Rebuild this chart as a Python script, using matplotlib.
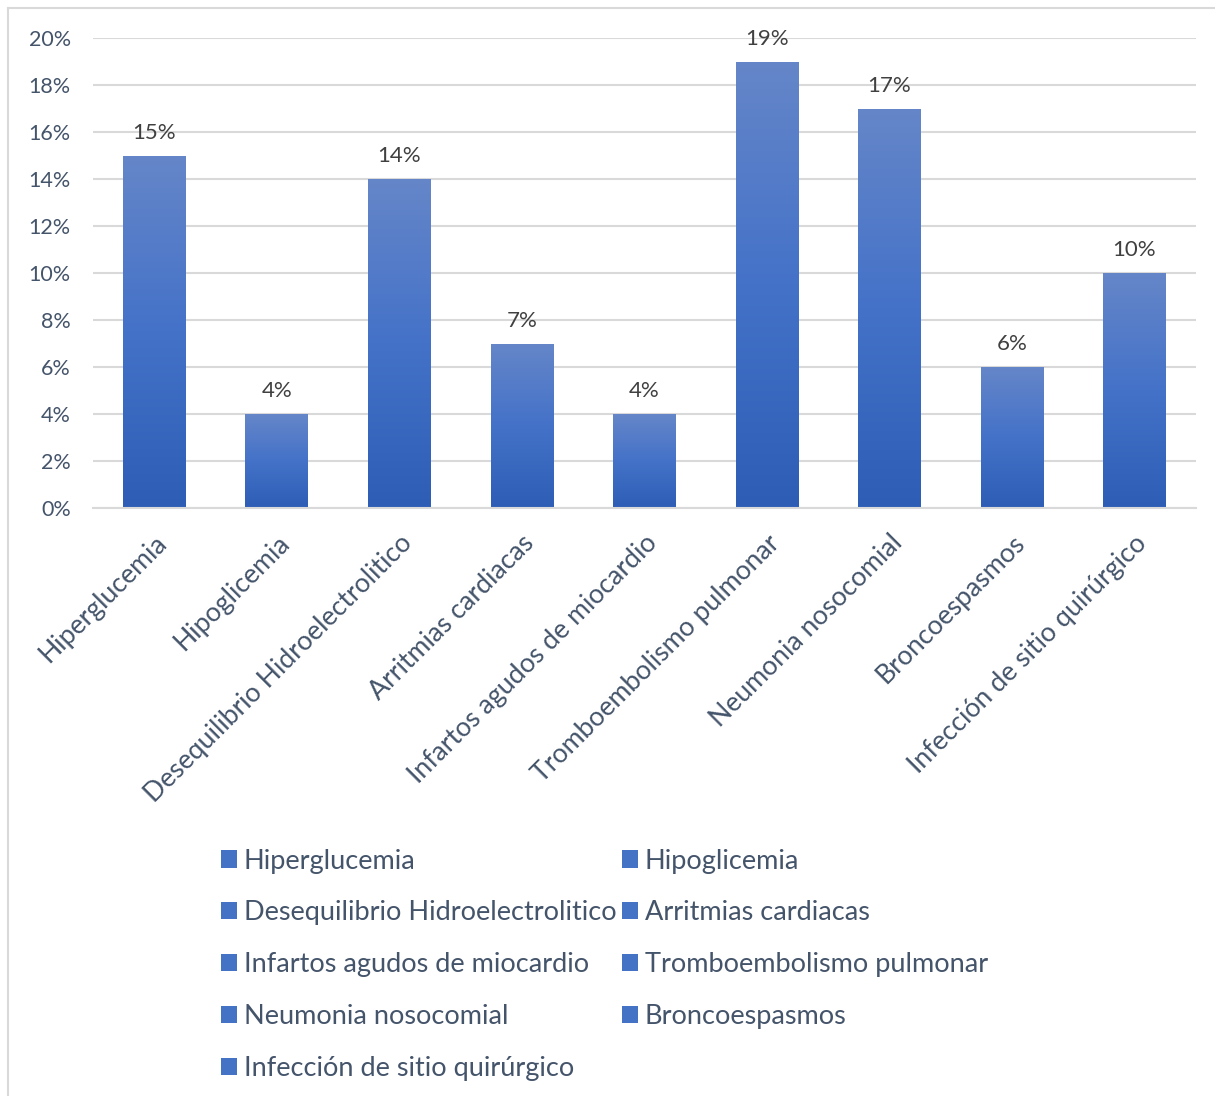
import numpy as np
import matplotlib.pyplot as plt
from matplotlib.patches import Patch
from matplotlib.colors import LinearSegmentedColormap
from matplotlib.lines import Line2D

categorias = ['Hiperglucemia', 'Hipoglicemia', 'Desequilibrio Hidroelectrolitico',
              'Arritmias cardiacas', 'Infartos agudos de miocardio',
              'Tromboembolismo pulmonar', 'Neumonia nosocomial',
              'Broncoespasmos', 'Infección de sitio quirúrgico']
porcentajes = [15, 4, 14, 7, 4, 19, 17, 6, 10]
ticks_y = [0, 2, 4, 6, 8, 10, 12, 14, 16, 18, 20]

plt.rcParams['font.family'] = ['Lato', 'DejaVu Sans']
gris_texto = '#44546a'
azul = '#4472c4'
degradado = LinearSegmentedColormap.from_list('azul', ['#2d5db5', '#4472c9', '#6586c8'])

fig = plt.figure(figsize=(12.15, 10.96), dpi=100)
ax = fig.add_axes([0.0765, 0.5365, 0.9075, 0.4288])

x = np.arange(len(categorias))
barras = ax.bar(x, porcentajes, width=0.51, color='none')
grad = np.linspace(0, 1, 256).reshape(-1, 1)
for b in barras:
    x0, y0 = b.get_x(), b.get_y()
    im = ax.imshow(grad, cmap=degradado, origin='lower', aspect='auto',
                   extent=(x0, x0 + b.get_width(), y0, y0 + b.get_height()), zorder=2)
    im.set_clip_path(b)

for xi, v in zip(x, porcentajes):
    ax.text(xi, v + 0.55, f'{v}%', ha='center', va='bottom', fontsize=16, color='#404040')

ax.set_xlim(-0.5, len(categorias) - 0.5)
ax.set_ylim(0, 20)
ax.set_yticks(ticks_y)
ax.set_yticklabels([f'{t}%' for t in ticks_y], fontsize=15.5, color=gris_texto)
ax.set_xticks(x)
ax.set_xticklabels(categorias, rotation=45, ha='right', rotation_mode='anchor',
                   fontsize=19.2, color=gris_texto)
ax.tick_params(length=0, pad=16, axis='y')
ax.tick_params(length=0, pad=16, axis='x')
ax.grid(axis='y', color='#d9d9d9', lw=1.5)
ax.set_axisbelow(True)
for s in ['top', 'right', 'left']:
    ax.spines[s].set_visible(False)
ax.spines['bottom'].set_color('#d9d9d9')
ax.spines['bottom'].set_linewidth(1.5)

# leyenda en filas de dos, como la rellena Excel
handles = [Patch(facecolor=azul, edgecolor='none') for _ in categorias]
orden = [0, 2, 4, 6, 8, 1, 3, 5, 7]
fig.legend([handles[i] for i in orden], [categorias[i] for i in orden], ncol=2,
           loc='upper left', bbox_to_anchor=(0.166, 0.243), frameon=False,
           fontsize=19.5, labelcolor=gris_texto, handlelength=0.6, handleheight=0.6,
           handletextpad=0.25, columnspacing=0.2, labelspacing=0.99,
           borderpad=0.2)

# borde del gráfico
fig.add_artist(Line2D([0.0066, 0.0066], [0, 0.9927], color='#d9d9d9', lw=1.5))
fig.add_artist(Line2D([0.0066, 1], [0.9927, 0.9927], color='#d9d9d9', lw=1.5))

fig.savefig('out.png', dpi=100)
